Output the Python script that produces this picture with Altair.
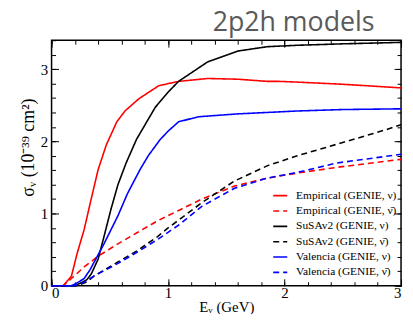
import altair as alt
import pandas as pd

# ---------------- data ----------------
series_names = [
    "Empirical (GENIE, ν)",
    "Empirical (GENIE, ν\u0304)",
    "SuSAv2 (GENIE, ν)",
    "SuSAv2 (GENIE, ν\u0304)",
    "Valencia (GENIE, ν)",
    "Valencia (GENIE, ν\u0304)",
]
series_colors = ["#ff0000", "#ff0000", "#000000", "#000000", "#0000ff", "#0000ff"]
series_dashes = [[1, 0], [6, 4], [1, 0], [6, 4], [1, 0], [6, 4]]

emp_nu_x = [0.0, 0.10, 0.17, 0.22, 0.28, 0.34, 0.40, 0.47, 0.56, 0.63, 0.75, 0.92, 1.09, 1.34, 1.60, 1.85, 1.95, 2.11, 2.50, 3.00]
emp_nu_y = [0.0, 0.0, 0.13, 0.45, 0.78, 1.20, 1.61, 1.95, 2.27, 2.42, 2.59, 2.77, 2.83, 2.87, 2.86, 2.83, 2.83, 2.82, 2.79, 2.74]

emp_nub_x = [0.0, 0.10, 0.17, 0.28, 0.40, 0.57, 0.74, 0.91, 1.00, 1.10, 1.29, 1.57, 1.85, 2.11, 2.45, 3.00]
emp_nub_y = [0.0, 0.0, 0.10, 0.26, 0.41, 0.58, 0.74, 0.90, 0.97, 1.05, 1.20, 1.38, 1.49, 1.56, 1.64, 1.75]

sus_nu_x = [0.0, 0.20, 0.24, 0.30, 0.34, 0.40, 0.45, 0.51, 0.57, 0.64, 0.73, 0.89, 1.00, 1.09, 1.34, 1.60, 1.85, 2.11, 2.50, 3.00]
sus_nu_y = [0.0, 0.0, 0.03, 0.08, 0.16, 0.37, 0.68, 1.06, 1.40, 1.70, 2.03, 2.47, 2.68, 2.83, 3.10, 3.25, 3.31, 3.33, 3.35, 3.37]

sus_nub_x = [0.0, 0.22, 0.30, 0.37, 0.57, 0.74, 0.91, 1.00, 1.10, 1.29, 1.57, 1.85, 2.11, 2.45, 2.87, 3.00]
sus_nub_y = [0.0, 0.0, 0.05, 0.14, 0.33, 0.49, 0.68, 0.80, 0.92, 1.15, 1.45, 1.66, 1.80, 1.96, 2.16, 2.23]

val_nu_x = [0.0, 0.17, 0.22, 0.28, 0.33, 0.38, 0.45, 0.57, 0.65, 0.76, 0.83, 0.93, 1.00, 1.09, 1.26, 1.60, 2.11, 2.50, 3.00]
val_nu_y = [0.0, 0.0, 0.04, 0.10, 0.22, 0.37, 0.58, 0.97, 1.27, 1.61, 1.80, 2.02, 2.14, 2.27, 2.34, 2.38, 2.42, 2.44, 2.45]

val_nub_x = [0.0, 0.20, 0.28, 0.37, 0.57, 0.74, 0.91, 1.00, 1.10, 1.29, 1.57, 1.85, 2.11, 2.45, 3.00]
val_nub_y = [0.0, 0.0, 0.05, 0.14, 0.31, 0.47, 0.64, 0.74, 0.85, 1.10, 1.35, 1.49, 1.57, 1.70, 1.82]

x_major = [0, 1, 2, 3]
x_minor = [0, 0.2, 0.4, 0.6, 0.8, 1, 1.2, 1.4, 1.6, 1.8, 2, 2.2, 2.4, 2.6, 2.8, 3]
y_major = [0, 1, 2, 3]
y_minor = [0, 0.2, 0.4, 0.6, 0.8, 1, 1.2, 1.4, 1.6, 1.8, 2, 2.2, 2.4, 2.6, 2.8, 3, 3.2, 3.4]

all_x = [emp_nu_x, emp_nub_x, sus_nu_x, sus_nub_x, val_nu_x, val_nub_x]
all_y = [emp_nu_y, emp_nub_y, sus_nu_y, sus_nub_y, val_nu_y, val_nub_y]

rows = []
for name, xs, ys in zip(series_names, all_x, all_y):
    for i, (xv, yv) in enumerate(zip(xs, ys)):
        rows.append({"E": xv, "sigma": yv, "series": name, "order": i})
df = pd.DataFrame(rows)

# ---------------- chart ----------------
W, H = 353, 248
SERIF = "Liberation Serif"
xscale = alt.Scale(domain=[0, 3], nice=False, zero=False)
yscale = alt.Scale(domain=[0, 3.4], nice=False, zero=False)

base = alt.Chart(df)

legend_kw = dict(title=None, orient="none", legendX=223, legendY=149,
                 symbolType="stroke", symbolSize=200, symbolStrokeWidth=1.6,
                 labelFont=SERIF, labelFontSize=11.5, labelColor="black",
                 labelLimit=300, rowPadding=1.5, padding=0, labelOffset=8)

lines = base.mark_line(strokeWidth=1.6).encode(
    x=alt.X("E:Q", scale=xscale,
            axis=alt.Axis(orient="bottom", values=x_major, offset=-7, tickSize=7,
                          domain=False, grid=False, labelPadding=0,
                          labelFont=SERIF, labelFontSize=15, labelColor="black",
                          tickColor="black", title="Eᵥ (GeV)", titleFont=SERIF,
                          titleFontSize=15, titleFontWeight="normal",
                          titleColor="black", titlePadding=-1)),
    y=alt.Y("sigma:Q", scale=yscale,
            axis=alt.Axis(orient="left", values=y_major, offset=-7, tickSize=7,
                          domain=False, grid=False, labelPadding=4,
                          labelFont=SERIF, labelFontSize=15, labelColor="black",
                          tickColor="black", title="σᵥ (10⁻³⁹ cm²)", titleFont=SERIF,
                          titleFontSize=18, titleFontWeight="normal",
                          titleColor="black", titlePadding=3, titleY=108)),
    color=alt.Color("series:N",
                    scale=alt.Scale(domain=series_names, range=series_colors),
                    legend=alt.Legend(**legend_kw)),
    strokeDash=alt.StrokeDash("series:N",
                              scale=alt.Scale(domain=series_names, range=series_dashes),
                              legend=alt.Legend(**legend_kw)),
    order="order:Q",
)


def tick_layer(xorient, xvals, xsize, yorient, yvals, ysize):
    return base.mark_point(opacity=0).encode(
        x=alt.X("E:Q", scale=xscale,
                axis=alt.Axis(orient=xorient, values=xvals, offset=-xsize, tickSize=xsize,
                              domain=False, grid=False, labels=False, title=None,
                              tickColor="black")),
        y=alt.Y("sigma:Q", scale=yscale,
                axis=alt.Axis(orient=yorient, values=yvals, offset=-ysize, tickSize=ysize,
                              domain=False, grid=False, labels=False, title=None,
                              tickColor="black")),
    )


minor_bl = tick_layer("bottom", x_minor, 4, "left", y_minor, 4)
major_tr = tick_layer("top", x_major, 7, "right", y_major, 7)
minor_tr = tick_layer("top", x_minor, 4, "right", y_minor, 4)

chart = (
    alt.layer(lines, minor_bl, major_tr, minor_tr)
    .resolve_axis(x="independent", y="independent")
    .properties(
        width=W, height=H,
        title=alt.TitleParams("2p2h models", anchor="end", fontSize=27,
                              font="Open Sans", fontWeight="normal", color="#5a5a5a",
                              dx=-30, offset=2),
        autosize=alt.AutoSizeParams(type="none"),
        padding={"left": 44, "top": 31, "right": 4, "bottom": 27},
    )
    .configure_view(stroke="black", strokeWidth=1.5)
    .configure_axis(labelFont=SERIF, titleFont=SERIF)
)

chart.save("out.html", embed_options={"renderer": "svg", "actions": False})
